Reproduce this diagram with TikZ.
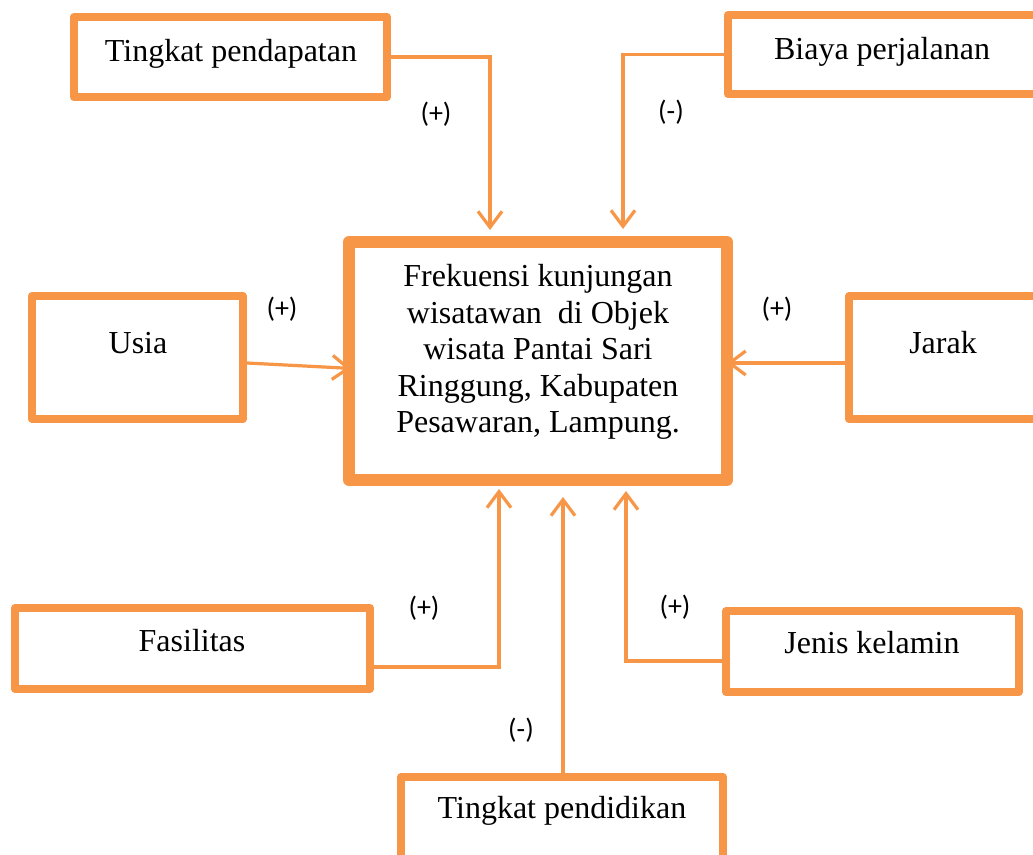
\documentclass[tikz,border=0pt]{standalone}
\usepackage{fontspec}
\setmainfont{Liberation Serif}
\newfontfamily\labfont{Carlito}
\usetikzlibrary{arrows.meta}
\definecolor{orng}{HTML}{F79646}
\tikzset{
  box/.style={draw=orng, line width=8pt, line join=round, rectangle, inner sep=0pt, fill=white},
  mainbox/.style={box, line width=12pt},
  lbl/.style={font=\fontsize{32}{37}\selectfont, inner sep=0pt, anchor=base},
  sgn/.style={font=\labfont\fontsize{28}{32}\selectfont, inner sep=0pt},
  conn/.style={draw=orng, line width=3.2pt, -{Straight Barb[length=16pt,width=24pt]}},
}
\begin{document}
\begin{tikzpicture}[x=1pt,y=-1pt]
\useasboundingbox (0,0) rectangle (1033,854);
\fill[white] (0,0) rectangle (1033,854);
\clip (0,0) rectangle (1033,854);
% boxes
\node[box, minimum width=313pt, minimum height=80pt] (tp) at (230.5,57) {};
\node[box, minimum width=317pt, minimum height=79pt] (bp) at (886.5,54.5) {};
\node[box, minimum width=211pt, minimum height=123pt] (usia) at (137.5,357.5) {};
\node[box, minimum width=196pt, minimum height=123pt] (jarak) at (947,357.5) {};
\node[mainbox, minimum width=378pt, minimum height=238pt] (main) at (538,361) {};
\node[box, minimum width=355pt, minimum height=81pt] (fas) at (192.5,648.5) {};
\node[box, minimum width=293pt, minimum height=81pt] (jenis) at (872.5,651.5) {};
\node[box, minimum width=322pt, minimum height=93pt] (tpend) at (562,823.5) {};
% texts
\node[lbl] (tpt) at (231,61) {Tingkat pendapatan};
\node[lbl] (bpt) at (882,59) {Biaya perjalanan};
\node[lbl] (usiat) at (138,353) {Usia};
\node[lbl] (jarakt) at (943,353) {Jarak};
\node[lbl] (fast) at (192,651) {Fasilitas};
\node[lbl] (jenist) at (872,653) {Jenis kelamin};
\node[lbl] (tpendt) at (562,818) {Tingkat pendidikan};
\node[font=\fontsize{32}{36.6}\selectfont, inner sep=0pt, align=center, anchor=center] (maint) at (538,352)
  {Frekuensi kunjungan\\wisatawan\ \ di Objek\\wisata Pantai Sari\\Ringgung, Kabupaten\\Pesawaran, Lampung.};
% connectors
\coordinate (jarakout) at ([yshift=-5.5pt]jarak.west);
\draw[conn, shorten >=6pt] (tp.east) -| ([xshift=-48pt]main.north);
\draw[conn, shorten >=7pt] (bp.west) -| ([xshift=85pt]main.north);
\draw[conn, shorten >=-8pt] ([yshift=-5.5pt]usia.east) -- ([yshift=-7pt]main.west);
\draw[conn, shorten >=-6pt] (jarakout) -- (main.east |- jarakout);
\draw[conn, shorten >=3pt] ([yshift=-18.5pt]fas.east) -| ([xshift=-39pt]main.south);
\draw[conn, shorten >=11pt] ([xshift=1pt]tpend.north) -- ([xshift=25pt]main.south);
\draw[conn, shorten >=5pt] ([yshift=-9.5pt]jenis.west) -| ([xshift=88pt]main.south);
% signs
\node[sgn] (s1) at (436,114) {(+)};
\node[sgn] (s2) at (671,112) {(-)};
\node[sgn] (s3) at (282,309) {(+)};
\node[sgn] (s4) at (777,309) {(+)};
\node[sgn] (s5) at (424,608) {(+)};
\node[sgn] (s6) at (675,607) {(+)};
\node[sgn] (s7) at (521,730) {(-)};
\end{tikzpicture}
\end{document}
